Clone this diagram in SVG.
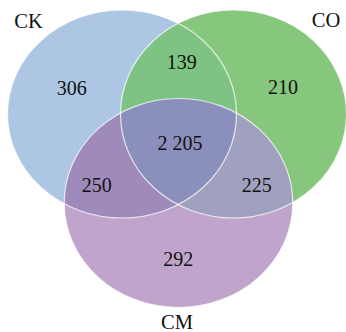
<svg xmlns="http://www.w3.org/2000/svg" xmlns:xlink="http://www.w3.org/1999/xlink" width="346" height="332" viewBox="0 0 346 332">
  <style>
    .num { font-family: "Liberation Serif", "Times New Roman", serif; font-size: 20px; fill: #111; text-anchor: middle; }
    .lab { font-family: "Liberation Serif", "Times New Roman", serif; font-size: 20.5px; fill: #111; text-anchor: middle; }
    .edge { fill: none; stroke: #ffffff; stroke-opacity: 0.75; stroke-width: 1.2; }
  </style>
  <defs>
    <ellipse id="eCK" cx="122" cy="114" rx="114.5" ry="104"/>
    <ellipse id="eCO" cx="233.5" cy="114" rx="113" ry="104"/>
    <ellipse id="eCM" cx="178.5" cy="203" rx="114.3" ry="104.5"/>
    <clipPath id="clipCK"><use xlink:href="#eCK"/></clipPath>
    <clipPath id="clipCO"><use xlink:href="#eCO"/></clipPath>
  </defs>
  <rect width="346" height="332" fill="#ffffff"/>
  <g id="CK">
    <use xlink:href="#eCK" fill="#acc6e3"/>
  </g>
  <g id="CO">
    <use xlink:href="#eCO" fill="#86c67d"/>
  </g>
  <g id="CM">
    <use xlink:href="#eCM" fill="#c1a4cc"/>
  </g>
  <g id="overlaps">
    <use xlink:href="#eCO" fill="#7ec384" clip-path="url(#clipCK)"/>
    <use xlink:href="#eCM" fill="#9f8bbb" clip-path="url(#clipCK)"/>
    <use xlink:href="#eCM" fill="#9fa1be" clip-path="url(#clipCO)"/>
    <g clip-path="url(#clipCK)">
      <use xlink:href="#eCM" fill="#8a8fbb" clip-path="url(#clipCO)"/>
    </g>
  </g>
  <g id="outlines">
    <use xlink:href="#eCK" class="edge"/>
    <use xlink:href="#eCO" class="edge"/>
    <use xlink:href="#eCM" class="edge"/>
  </g>
  <g id="labels">
    <text class="lab" x="28.5" y="27.5">CK</text>
    <text class="lab" x="326" y="26.5">CO</text>
    <text class="lab" x="177" y="329">CM</text>
  </g>
  <g id="counts">
    <text class="num" x="71.7" y="94.5">306</text>
    <text class="num" x="181.7" y="68.5">139</text>
    <text class="num" x="283" y="93.5">210</text>
    <text class="num" x="180" y="149.5">2 205</text>
    <text class="num" x="96.7" y="191.5">250</text>
    <text class="num" x="256.7" y="191.5">225</text>
    <text class="num" x="178.3" y="266">292</text>
  </g>
</svg>
